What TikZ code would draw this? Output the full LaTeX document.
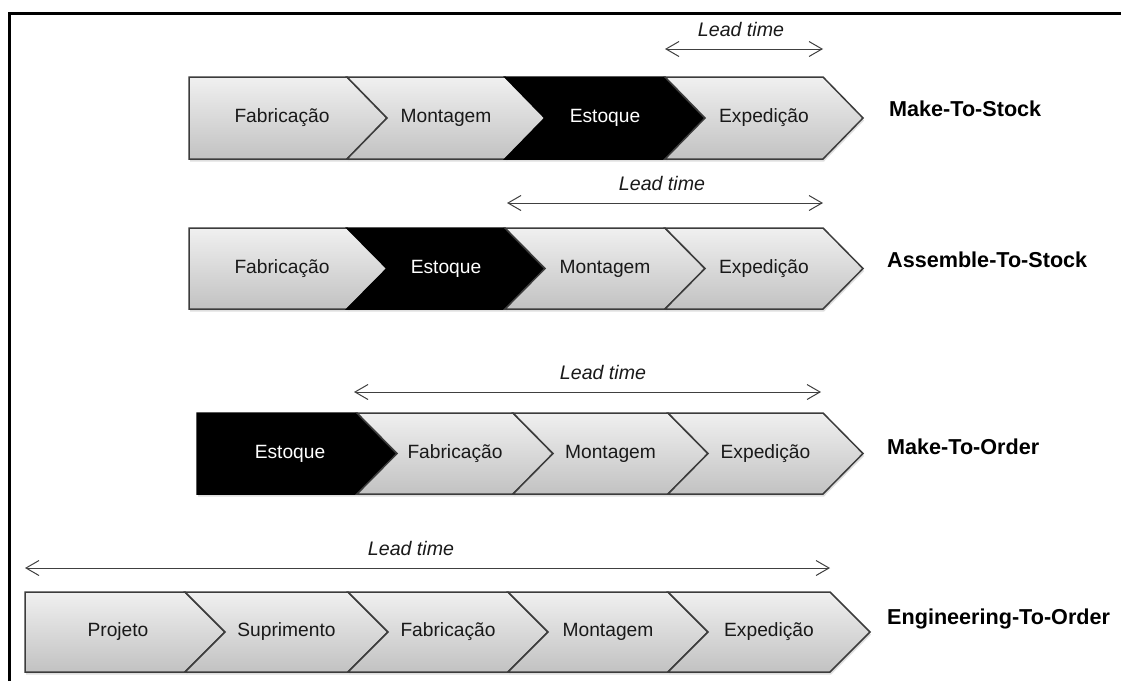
\documentclass[tikz,border=0pt]{standalone}
\usepackage{fontspec}
\setmainfont{Liberation Sans}
\usetikzlibrary{shadows,arrows.meta}
\definecolor{segtop}{RGB}{240,240,240}
\definecolor{segbot}{RGB}{194,194,194}
\definecolor{segline}{RGB}{60,60,60}
\tikzset{
  seg/.style={draw=segline, line width=1.5pt, top color=segtop, bottom color=segbot, line join=miter,
    drop shadow={opacity=0.25, shadow xshift=1pt, shadow yshift=-2.5pt}},
  blackseg/.style={draw=black, line width=1.5pt, fill=black, line join=miter,
    drop shadow={opacity=0.25, shadow xshift=1pt, shadow yshift=-2.5pt}},
  segtext/.style={font=\fontsize{19.2}{22}\selectfont, text=black!90, inner sep=0pt},
  blacktext/.style={segtext, text=white},
  leadarrow/.style={draw=black!75, line width=1pt,
    {Straight Barb[length=13pt,width=15pt]}-{Straight Barb[length=13pt,width=15pt]}},
  leadtext/.style={font=\fontsize{19.6}{22}\selectfont\itshape, text=black!90, inner sep=0pt},
  kind/.style={font=\fontsize{21.6}{25}\selectfont\bfseries, anchor=west, inner sep=0pt},
  frameline/.style={line width=3pt, draw=black}
}
% #1 style, #2 left x, #3 right x, #4 top y, #5 bottom y, #6 notch depth
\newcommand\segpath[6]{%
  \path[#1] (#2,#4) -- (#3,#4) -- ({#3+40},{(#4+#5)/2}) -- (#3,#5) -- (#2,#5) -- ({#2+#6},{(#4+#5)/2}) -- cycle;}
\begin{document}
\begin{tikzpicture}[x=1pt,y=-1pt]
\useasboundingbox (0,0) rectangle (1121,681);
\fill[white] (0,0) rectangle (1121,681);
\draw[frameline] (9,681) -- (9,13) -- (1121,13);

% Row 1: Make-To-Stock
\segpath{seg}{189}{347}{77}{159}{0}
\segpath{seg}{347}{505}{77}{159}{40}
\segpath{blackseg}{505}{665}{77}{159}{40}
\segpath{seg}{665}{823}{77}{159}{40}
\node[segtext] (r1a) at (282,118) {Fabricação};
\node[segtext] (r1b) at (446,118) {Montagem};
\node[blacktext] (r1c) at (605,118) {Estoque};
\node[segtext] (r1d) at (764,118) {Expedição};
\node[kind] (r1k) at (889,109) {Make-To-Stock};
\coordinate (r1l) at (665,49);
\coordinate (r1r) at (823,49);
\draw[leadarrow] (r1l) -- (r1r);
\node[leadtext] (r1t) at (741,29) {Lead time};

% Row 2: Assemble-To-Stock
\segpath{seg}{189}{347}{228}{309}{0}
\segpath{blackseg}{347}{505}{228}{309}{40}
\segpath{seg}{505}{665}{228}{309}{40}
\segpath{seg}{665}{823}{228}{309}{40}
\node[segtext] (r2a) at (282,268.5) {Fabricação};
\node[blacktext] (r2b) at (446,268.5) {Estoque};
\node[segtext] (r2c) at (605,268.5) {Montagem};
\node[segtext] (r2d) at (764,268.5) {Expedição};
\node[kind] (r2k) at (887,260) {Assemble-To-Stock};
\coordinate (r2l) at (507,203);
\coordinate (r2r) at (823,203);
\draw[leadarrow] (r2l) -- (r2r);
\node[leadtext] (r2t) at (662,183) {Lead time};

% Row 3: Make-To-Order
\segpath{blackseg}{197}{357}{413}{494}{0}
\segpath{seg}{357}{513}{413}{494}{40}
\segpath{seg}{513}{668}{413}{494}{40}
\segpath{seg}{668}{823}{413}{494}{40}
\node[blacktext] (r3a) at (290,453.5) {Estoque};
\node[segtext] (r3b) at (455,453.5) {Fabricação};
\node[segtext] (r3c) at (610.5,453.5) {Montagem};
\node[segtext] (r3d) at (765.5,453.5) {Expedição};
\node[kind] (r3k) at (887,447) {Make-To-Order};
\coordinate (r3l) at (354,392);
\coordinate (r3r) at (821,392);
\draw[leadarrow] (r3l) -- (r3r);
\node[leadtext] (r3t) at (603,372) {Lead time};

% Row 4: Engineering-To-Order
\segpath{seg}{25}{185}{592}{672}{0}
\segpath{seg}{185}{348}{592}{672}{40}
\segpath{seg}{348}{508}{592}{672}{40}
\segpath{seg}{508}{668}{592}{672}{40}
\segpath{seg}{668}{830}{592}{672}{40}
\node[segtext] (r4a) at (118,632) {Projeto};
\node[segtext] (r4b) at (286.5,632) {Suprimento};
\node[segtext] (r4c) at (448,632) {Fabricação};
\node[segtext] (r4d) at (608,632) {Montagem};
\node[segtext] (r4e) at (769,632) {Expedição};
\node[kind] (r4k) at (887,619) {Engineering-To-Order};
\coordinate (r4l) at (25,568);
\coordinate (r4r) at (830,568);
\draw[leadarrow] (r4l) -- (r4r);
\node[leadtext] (r4t) at (411,548) {Lead time};
\end{tikzpicture}
\end{document}
